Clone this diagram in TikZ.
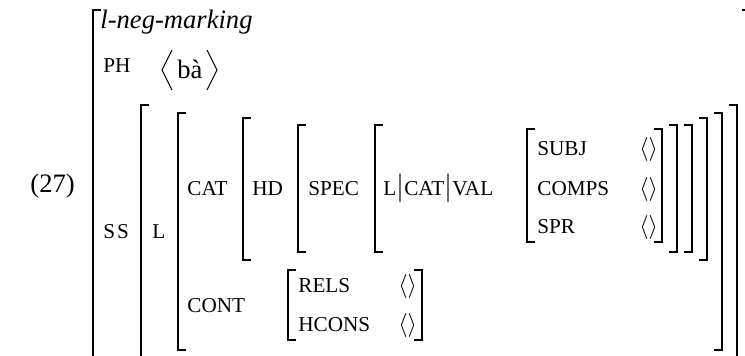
\documentclass[tikz,border=0pt]{standalone}
\usepackage{fontspec}
\setmainfont{Liberation Serif}

\newcommand{\mainsize}{\fontsize{13.3}{16}\selectfont}
\newcommand{\featsize}{\fontsize{10.6}{12}\selectfont}
\newcommand{\elist}{{\fontsize{11.5}{13}\selectfont$\langle\rangle$}}

\tikzset{
  feat/.style={anchor=base west, inner sep=0pt, font=\featsize},
  val/.style={anchor=base west, inner sep=0pt, font=\mainsize},
  brk/.style={line width=0.8pt},
  ang/.style={line width=0.5pt},
}

% left x, right x, top y, bottom y
\newcommand{\avmbrackets}[4]{%
  \draw[brk] (#1+8,#3) -- (#1,#3) -- (#1,#4) -- (#1+8,#4);
  \draw[brk] (#2-8,#3) -- (#2,#3) -- (#2,#4) -- (#2-8,#4);}

\begin{document}
\begin{tikzpicture}[x=0.5pt, y=-0.5pt]
    \useasboundingbox (0,0) rectangle (745,355);
    \clip (0,0) rectangle (745,355);

    \node[val] (ex) at (30,192) {(27)};

    % outer matrix
    \avmbrackets{93}{750}{10}{420}
    \node[val, font=\mainsize\itshape] (type) at (100,28) {l-neg-marking};
    \node[feat] (ph) at (103,72) {PH};
    \node[val] (phval) at (177,78) {bà};
    \draw[ang] (172,50) -- (162,70) -- (172,90);
    \draw[ang] (207,50) -- (217,70) -- (207,90);

    % synsem
    \node[feat] (ss) at (103,238) {S\kern1pt S};
    \avmbrackets{141}{737}{105}{420}
    \node[feat] (l) at (152,238) {L};
    \avmbrackets{178}{722}{113}{350}

    % category
    \node[feat] (cat) at (187,195) {CAT};
    \avmbrackets{243}{707}{118}{260}
    \node[feat] (hd) at (252,195) {HD};
    \avmbrackets{298}{692}{125}{252}
    \node[feat] (spec) at (308,195) {SPEC};
    \avmbrackets{375}{677}{125}{252}
    \node[feat] (path) at (383,195) {L{\mainsize$|$}CAT{\mainsize$|$}VAL};
    \avmbrackets{527}{662}{129}{242}
    \node[feat] (subj) at (537,155) {SUBJ};
    \node[feat] (comps) at (537,195) {COMPS};
    \node[feat] (spr) at (537,233) {SPR};
    \node[val] (subjv) at (639,155) {\elist};
    \node[val] (compsv) at (639,195) {\elist};
    \node[val] (sprv) at (639,233) {\elist};

    % content
    \node[feat] (cont) at (187,312) {CONT};
    \avmbrackets{288}{422}{270}{340}
    \node[feat] (rels) at (298,292) {RELS};
    \node[feat] (hcons) at (298,331) {HCONS};
    \node[val] (relsv) at (398,292) {\elist};
    \node[val] (hconsv) at (398,331) {\elist};
\end{tikzpicture}
\end{document}
